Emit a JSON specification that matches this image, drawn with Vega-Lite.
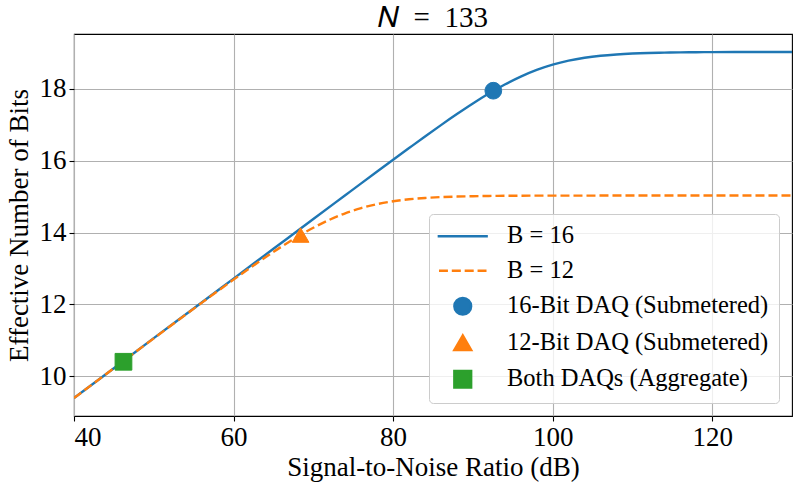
{
  "$schema": "https://vega.github.io/schema/vega-lite/v6.json",
  "width": 718,
  "height": 382,
  "autosize": {"type": "none"},
  "padding": {"left": 74, "top": 34, "right": 4, "bottom": 68},
  "title": {"text": "\ud835\udc41\u2002=\u2002133", "fontSize": 29, "font": "'Liberation Serif', 'Times New Roman', serif", "fontWeight": "normal", "color": "black", "offset": 1, "anchor": "middle"},
  "datasets": {
    "b16": [
      {"snr": 40, "enob": 9.39}, {"snr": 45, "enob": 10.22}, {"snr": 50, "enob": 11.06}, {"snr": 55, "enob": 11.886},
      {"snr": 60, "enob": 12.717}, {"snr": 65, "enob": 13.547}, {"snr": 70, "enob": 14.377}, {"snr": 74, "enob": 15.039},
      {"snr": 76, "enob": 15.37}, {"snr": 78, "enob": 15.7}, {"snr": 80, "enob": 16.028}, {"snr": 82, "enob": 16.353},
      {"snr": 84, "enob": 16.676}, {"snr": 86, "enob": 16.992}, {"snr": 88, "enob": 17.299}, {"snr": 90, "enob": 17.594},
      {"snr": 92, "enob": 17.871}, {"snr": 94, "enob": 18.123}, {"snr": 96, "enob": 18.344}, {"snr": 98, "enob": 18.53},
      {"snr": 100, "enob": 18.677}, {"snr": 102, "enob": 18.788}, {"snr": 104, "enob": 18.868}, {"snr": 106, "enob": 18.924},
      {"snr": 108, "enob": 18.961}, {"snr": 110, "enob": 18.986}, {"snr": 112, "enob": 19.002}, {"snr": 114, "enob": 19.012},
      {"snr": 116, "enob": 19.019}, {"snr": 118, "enob": 19.023}, {"snr": 120, "enob": 19.025}, {"snr": 124, "enob": 19.028},
      {"snr": 130, "enob": 19.03}
    ],
    "b12": [
      {"snr": 40, "enob": 9.39}, {"snr": 45, "enob": 10.22}, {"snr": 50, "enob": 11.053}, {"snr": 52, "enob": 11.383},
      {"snr": 54, "enob": 11.713}, {"snr": 56, "enob": 12.041}, {"snr": 58, "enob": 12.367}, {"snr": 60, "enob": 12.688},
      {"snr": 62, "enob": 13.004}, {"snr": 64, "enob": 13.311}, {"snr": 66, "enob": 13.606}, {"snr": 68, "enob": 13.882},
      {"snr": 70, "enob": 14.133}, {"snr": 72, "enob": 14.352}, {"snr": 74, "enob": 14.536}, {"snr": 76, "enob": 14.682},
      {"snr": 78, "enob": 14.792}, {"snr": 80, "enob": 14.871}, {"snr": 82, "enob": 14.926}, {"snr": 84, "enob": 14.962},
      {"snr": 86, "enob": 14.987}, {"snr": 88, "enob": 15.002}, {"snr": 90, "enob": 15.012}, {"snr": 92, "enob": 15.019},
      {"snr": 94, "enob": 15.023}, {"snr": 96, "enob": 15.026}, {"snr": 100, "enob": 15.028}, {"snr": 110, "enob": 15.03},
      {"snr": 130, "enob": 15.03}
    ],
    "pts": [
      {"snr": 92.56, "enob": 17.95, "label": "16-Bit DAQ (Submetered)"},
      {"snr": 68.4, "enob": 13.93, "label": "12-Bit DAQ (Submetered)"},
      {"snr": 46.2, "enob": 10.4, "label": "Both DAQs (Aggregate)"}
    ]
  },
  "encoding": {
    "x": {"field": "snr", "type": "quantitative",
      "scale": {"domain": [40, 130], "nice": false, "zero": false},
      "axis": {"title": "Signal-to-Noise Ratio (dB)", "values": [40, 60, 80, 100, 120]}},
    "y": {"field": "enob", "type": "quantitative",
      "scale": {"domain": [8.89, 19.53], "nice": false, "zero": false},
      "axis": {"title": "Effective Number of Bits", "values": [10, 12, 14, 16, 18]}}
  },
  "layer": [
    {"data": {"name": "b16"}, "mark": {"type": "line", "color": "#1f77b4", "strokeWidth": 2.4, "interpolate": "monotone", "clip": true}},
    {"data": {"name": "b12"}, "mark": {"type": "line", "color": "#ff7f0e", "strokeWidth": 2.4, "strokeDash": [9, 4], "interpolate": "monotone", "clip": true}},
    {"data": {"name": "pts"}, "mark": {"type": "point", "filled": true, "opacity": 1, "strokeWidth": 1, "size": 280},
      "encoding": {
        "fill": {"field": "label", "type": "nominal",
          "scale": {"domain": ["B = 16", "B = 12", "16-Bit DAQ (Submetered)", "12-Bit DAQ (Submetered)", "Both DAQs (Aggregate)"],
                    "range": ["#1f77b4", "#ff7f0e", "#1f77b4", "#ff7f0e", "#2ca02c"]},
          "legend": {
            "title": null, "orient": "bottom-right", "offset": 13,
            "labelFont": "'Liberation Serif', 'Times New Roman', serif", "labelFontSize": 24.5, "labelColor": "black", "labelLimit": 400,
            "fillColor": "rgba(255,255,255,0.8)", "strokeColor": "#cccccc", "cornerRadius": 4,
            "padding": 10, "rowPadding": 9.5, "labelOffset": 32, "symbolOffset": 11.5,
            "symbolSize": 280, "symbolStrokeWidth": 2.5
          }},
        "stroke": {"field": "label", "type": "nominal",
          "scale": {"domain": ["B = 16", "B = 12", "16-Bit DAQ (Submetered)", "12-Bit DAQ (Submetered)", "Both DAQs (Aggregate)"],
                    "range": ["#1f77b4", "#ff7f0e", "#1f77b4", "#ff7f0e", "#2ca02c"]}},
        "shape": {"field": "label", "type": "nominal",
          "scale": {"domain": ["B = 16", "B = 12", "16-Bit DAQ (Submetered)", "12-Bit DAQ (Submetered)", "Both DAQs (Aggregate)"],
                    "range": ["M-3,0H3", "M-2.84,0H-1.77M-1.31,0H-0.23M0.23,0H1.31M1.77,0H2.84", "circle", "triangle-up", "square"]}}
      }}
  ],
  "config": {
    "font": "'Liberation Serif', 'Times New Roman', serif",
    "view": {"stroke": "black", "strokeWidth": 1.1},
    "axis": {
      "grid": true, "gridColor": "#b0b0b0", "gridWidth": 1.1,
      "domain": false, "ticks": true, "tickColor": "black", "tickSize": 5, "tickWidth": 1.1,
      "labelFont": "'Liberation Serif', 'Times New Roman', serif", "labelFontSize": 27, "labelColor": "black", "labelPadding": 3,
      "titleFont": "'Liberation Serif', 'Times New Roman', serif", "titleFontSize": 27, "titleFontWeight": "normal", "titleColor": "black"
    },
    "axisX": {"titlePadding": 4},
    "axisY": {"titlePadding": 6}
  }
}
